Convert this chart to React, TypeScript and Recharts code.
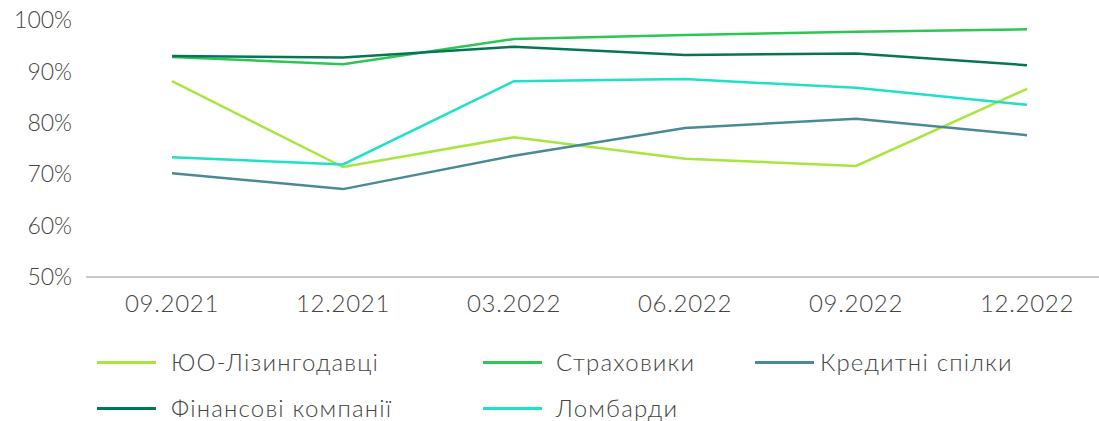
import { LineChart, Line, XAxis, YAxis } from 'recharts';

const periods = ['09.2021', '12.2021', '03.2022', '06.2022', '09.2022', '12.2022'];

const leasing = [88.1, 71.4, 77.2, 73.0, 71.6, 86.6];
const insurers = [92.8, 91.4, 96.3, 97.1, 97.7, 98.2];
const creditUnions = [70.2, 67.1, 73.6, 79.0, 80.8, 77.6];
const financeCos = [93.0, 92.7, 94.8, 93.2, 93.5, 91.2];
const pawnshops = [73.3, 71.9, 88.1, 88.5, 86.8, 83.5];

const yTicks = [50, 60, 70, 80, 90, 100];

const SERIES = [
  { key: 'leasing', name: 'ЮО-Лізингодавці', color: '#a8e63f', values: leasing },
  { key: 'insurers', name: 'Страховики', color: '#2dc653', values: insurers },
  { key: 'creditUnions', name: 'Кредитні спілки', color: '#4a8a96', values: creditUnions },
  { key: 'financeCos', name: 'Фінансові компанії', color: '#067556', values: financeCos },
  { key: 'pawnshops', name: 'Ломбарди', color: '#1fe0c9', values: pawnshops },
];

const data = periods.map((p, i) => {
  const row: Record<string, string | number> = { period: p };
  SERIES.forEach((s) => {
    row[s.key] = s.values[i];
  });
  return row;
});

const FONT = 'Lato, "Open Sans", sans-serif';

// legend: 3 columns, swatch start / text start
const swatchX = [97, 483, 755];
const labelX = [171, 556, 820];

function ChartLegend() {
  return (
    <div style={{ position: 'absolute', left: 0, top: 346, width: 1099, height: 75 }}>
      {SERIES.map((s, i) => {
        const col = i % 3;
        const row = Math.floor(i / 3);
        const top = row * 46;
        return (
          <div key={s.key}>
            <span
              style={{
                position: 'absolute',
                left: swatchX[col],
                top: top + 15,
                width: 59,
                height: 3,
                background: s.color,
              }}
            />
            <span
              style={{
                position: 'absolute',
                left: labelX[col],
                top,
                lineHeight: '32px',
                whiteSpace: 'nowrap',
                fontFamily: FONT,
                fontWeight: 300,
                fontSize: 24,
                letterSpacing: 1.2,
                color: '#454545',
              }}
            >
              {s.name}
            </span>
          </div>
        );
      })}
    </div>
  );
}

export default function App() {
  return (
    <div style={{ position: 'absolute', left: 0, top: 0, width: 1099, height: 421, background: '#fff' }}>
      <LineChart
        width={1099}
        height={421}
        data={data}
        margin={{ top: 20, right: 0, left: 0, bottom: 144 - 44 }}
      >
        <XAxis
          dataKey="period"
          padding={{ left: 86, right: 72 }}
          tickLine={false}
          axisLine={{ stroke: '#c9c9c9', strokeWidth: 2 }}
          tick={{ fontSize: 24, fill: '#454545', fontFamily: FONT, fontWeight: 300, letterSpacing: 0.7 }}
          tickMargin={12}
          height={44}
          interval={0}
        />
        <YAxis
          domain={[50, 100]}
          ticks={yTicks}
          width={86}
          axisLine={false}
          tickLine={false}
          tickSize={0}
          tickMargin={14}
          tickFormatter={(v) => `${v}%`}
          tick={{ fontSize: 23, fill: '#454545', fontFamily: FONT, fontWeight: 300 }}
        />
        {SERIES.map((s) => (
          <Line
            key={s.key}
            type="linear"
            dataKey={s.key}
            name={s.name}
            stroke={s.color}
            strokeWidth={2.5}
            dot={false}
            activeDot={false}
            isAnimationActive={false}
          />
        ))}
      </LineChart>
      <ChartLegend />
    </div>
  );
}
